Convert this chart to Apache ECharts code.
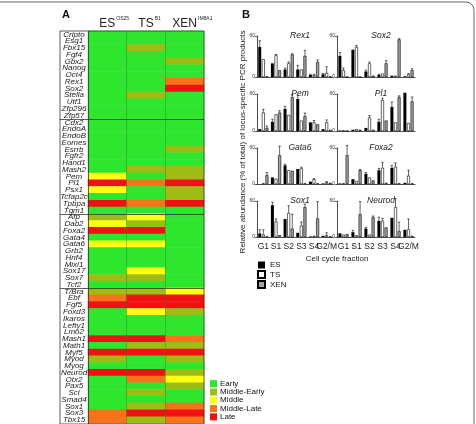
<!DOCTYPE html>
<html>
<head>
<meta charset="utf-8">
<script src="https://cdn.jsdelivr.net/npm/echarts@6/dist/echarts.min.js"></script>
<style>
html, body { margin: 0; padding: 0; background: #fff; }
#main { width: 476px; height: 424px; }
</style>
</head>
<body>
<div id="main"></div>
<script>
// ---- panel A: timing of replication per gene ----
var genes = ['Cripto', 'Esg1', 'Fbx15', 'Fgf4', 'Gbx2', 'Nanog', 'Oct4', 'Rex1', 'Sox2', 'Stella', 'Utf1', 'Zfp296', 'Zfp57',
  'Cdx2', 'EndoA', 'EndoB', 'Eomes', 'Esrrb', 'Fgfr2', 'Hand1', 'Mash2', 'Pem', 'Pl1', 'Psx1', 'Tcfap2c', 'Tpbpa', 'Tgm1',
  'Afp', 'Dab2', 'Foxa2', 'Gata4', 'Gata6', 'Grb2', 'Hnf4', 'Mixl1', 'Sox17', 'Sox7', 'Tcf2',
  'T/Bra', 'Ebf', 'Fgf5', 'Foxd3', 'Ikaros', 'Lefty1', 'Lmo2', 'Mash1', 'Math1', 'Myf5', 'Myod', 'Myog', 'Neurod',
  'Otx2', 'Pax5', 'Scl', 'Smad4', 'Sox1', 'Sox3', 'Tbx15'];
var groupSizes = [13, 14, 11, 20];
var cellLines = ['ES', 'TS', 'XEN'];
var cellSup = ['OS25', 'B1', 'IM8A1'];
// 0 Early, 1 Middle-Early, 2 Middle, 3 Middle-Late, 4 Late
var esStage = [0, 0, 0, 0, 0, 0, 0, 0, 0, 0, 0, 0, 0,
  0, 0, 0, 0, 0, 0, 0, 0, 2, 4, 2, 0, 4, 0,
  1, 2, 4, 0, 2, 0, 0, 0, 0, 1, 0,
  1, 3, 4, 0, 0, 0, 0, 4, 0, 4, 1, 0, 4, 0, 0, 0, 0, 0, 3, 3];
var tsStage = [0, 0, 1, 0, 0, 0, 0, 0, 0, 1, 0, 0, 0,
  0, 0, 0, 0, 0, 0, 0, 1, 0, 3, 0, 0, 3, 0,
  2, 1, 4, 0, 2, 0, 0, 0, 2, 1, 0,
  1, 4, 4, 2, 0, 0, 0, 4, 1, 4, 0, 0, 4, 3, 0, 1, 0, 1, 4, 1];
var xenStage = [0, 0, 0, 0, 1, 0, 0, 3, 4, 0, 0, 0, 0,
  0, 0, 0, 0, 1, 0, 0, 1, 1, 4, 1, 1, 4, 0,
  0, 0, 0, 0, 0, 0, 0, 0, 0, 0, 0,
  2, 4, 4, 1, 0, 0, 0, 3, 1, 4, 1, 0, 1, 2, 1, 0, 0, 3, 4, 3];
var stageNames = ['Early', 'Middle-Early', 'Middle', 'Middle-Late', 'Late'];
var stageColors = ['#2ee62e', '#9ebd14', '#ffff14', '#f5741a', '#f01212'];

// ---- panel B: relative abundance (% of total), rows ES / TS / XEN ----
var fractions = ['G1', 'S1', 'S2', 'S3', 'S4', 'G2/M'];
var panelGenes = ['Rex1', 'Sox2', 'Pem', 'Pl1', 'Gata6', 'Foxa2', 'Sox1', 'Neurod'];
var rex1Val = [[44, 20, 11, 11, 3, 4], [26, 32, 20, 11, 3, 6], [1, 10, 33, 31, 22, 1]];
var rex1Err = [[9, 0, 2, 6, 1, 1], [0, 1, 2, 0, 1, 9], [0, 0, 1, 8, 3, 0]];
var sox2Val = [[31, 40, 8, 3, 2, 1], [10, 44, 20, 5, 2, 4], [0, 0, 2, 20, 55, 10]];
var sox2Err = [[5, 0, 2, 1, 0, 0], [3, 2, 2, 0, 0, 1], [0, 0, 0, 4, 1, 2]];
var pemVal = [[3, 15, 36, 52, 14, 3], [30, 27, 26, 17, 14, 14], [5, 30, 55, 24, 11, 2]];
var pemErr = [[0, 4, 4, 6, 0, 0], [5, 0, 0, 0, 3, 4], [3, 3, 4, 5, 0, 0]];
var pl1Val = [[1, 2, 5, 15, 39, 62], [1, 3, 22, 50, 14, 13], [0, 2, 2, 17, 55, 48]];
var pl1Err = [[0, 0, 0, 4, 8, 0], [0, 0, 3, 3, 0, 0], [0, 0, 0, 0, 2, 7]];
var gata6Val = [[0, 11, 31, 25, 4, 1], [1, 9, 23, 26, 8, 3], [15, 48, 22, 1, 1, 2]];
var gata6Err = [[0, 0, 2, 0, 0, 0], [0, 0, 0, 2, 1, 1], [4, 15, 0, 0, 0, 0]];
var foxa2Val = [[1, 8, 17, 23, 27, 2], [1, 5, 11, 27, 29, 14], [48, 23, 6, 2, 1, 1]];
var foxa2Err = [[0, 0, 2, 3, 4, 0], [0, 0, 0, 9, 6, 9], [16, 1, 0, 0, 0, 0]];
var sox1Val = [[6, 53, 30, 7, 1, 2], [4, 26, 40, 19, 2, 3], [1, 3, 14, 50, 31, 1]];
var sox1Err = [[6, 5, 0, 0, 0, 0], [8, 4, 12, 6, 0, 4], [0, 0, 24, 5, 28, 0]];
var neurodVal = [[6, 8, 14, 27, 32, 12], [4, 3, 4, 27, 50, 13], [5, 38, 33, 16, 10, 2]];
var neurodErr = [[0, 3, 2, 6, 0, 0], [0, 0, 0, 4, 14, 17], [0, 21, 2, 0, 15, 0]];
var yTicks = [0, 60];

var panelVal = [rex1Val, sox2Val, pemVal, pl1Val, gata6Val, foxa2Val, sox1Val, neurodVal];
var panelErr = [rex1Err, sox2Err, pemErr, pl1Err, gata6Err, foxa2Err, sox1Err, neurodErr];

var chart = echarts.init(document.getElementById('main'));
var FONT = 'Liberation Sans';

var BAR_W = 3, BAR_GAP = 0.6;
var barFill = ['#000000', '#ffffff', '#a3a3a3'];

// heatmap
var heatData = [];
var stageCols = [esStage, tsStage, xenStage];
for (var c = 0; c < 3; c++) {
  for (var r = 0; r < genes.length; r++) heatData.push([c, r, stageCols[c][r]]);
}
var bounds = [];
var acc = 0;
for (var g = 0; g < groupSizes.length - 1; g++) {
  acc += groupSizes[g];
  bounds.push({ yAxis: acc });
}

// superscripts hang to the right of the name, so pad the left by the same width
var ctx = document.createElement('canvas').getContext('2d');
ctx.font = '5px ' + FONT;
var headRich = {};
cellSup.forEach(function (s, i) {
  headRich['p' + i] = { width: ctx.measureText(s).width + 1, fontSize: 5 };
});
headRich.s = { fontSize: 5, fontFamily: FONT, color: '#222', verticalAlign: 'top', padding: [0, 0, 10, 1] };

var grids = [
  { left: 88, top: 31, width: 116, height: 394.4 },
  { left: 60, top: 31, width: 144, height: 394.4, show: true, borderColor: '#333', borderWidth: 0.8, z: 10 }
];
var xAxes = [
  {
    gridIndex: 0, type: 'category', data: cellLines, position: 'top',
    axisLine: { show: false }, axisTick: { show: false },
    axisLabel: {
      interval: 0, margin: 0, color: '#222', fontFamily: FONT, fontSize: 12,
      formatter: function (v, i) { return '{p' + i + '| }' + v + '{s|' + cellSup[i] + '}'; },
      rich: headRich
    }
  },
  { gridIndex: 1, type: 'value', min: -0.72, max: 3, show: false }
];
var yAxes = [
  {
    gridIndex: 0, type: 'category', data: genes, inverse: true,
    axisLine: { show: false }, axisTick: { show: false }, splitLine: { show: false },
    axisLabel: { interval: 0, margin: 14, align: 'center', fontSize: 8, fontStyle: 'italic', color: '#222', fontFamily: FONT }
  },
  { gridIndex: 1, type: 'value', min: 0, max: genes.length, inverse: true, show: false }
];
var series = [
  {
    type: 'heatmap', xAxisIndex: 0, yAxisIndex: 0, data: heatData,
    itemStyle: { borderWidth: 0 }, emphasis: { disabled: true }
  },
  {
    type: 'line', xAxisIndex: 1, yAxisIndex: 1, data: [], z: 10, silent: true,
    markLine: {
      symbol: ['none', 'none'], silent: true, label: { show: false },
      lineStyle: { color: '#333', width: 0.8, type: 'solid' },
      data: bounds.concat([{ xAxis: 0 }])
    }
  },
  {
    type: 'line', xAxisIndex: 1, yAxisIndex: 1, data: [], z: 10, silent: true,
    markLine: {
      symbol: ['none', 'none'], silent: true, label: { show: false },
      lineStyle: { color: '#1d7a1d', width: 0.6, type: 'solid', opacity: 0.7 },
      data: [{ xAxis: 1 }, { xAxis: 2 }]
    }
  }
];

var titles = [
  { text: 'A', left: 57, top: 4, textStyle: { fontSize: 11, fontWeight: 'bold', fontFamily: FONT, color: '#111' } },
  { text: 'B', left: 237, top: 4, textStyle: { fontSize: 11, fontWeight: 'bold', fontFamily: FONT, color: '#111' } }
];

var colLeft = [257, 337], colWidth = [76, 78];
var rowTop = [36, 94, 148, 201], rowH = [41, 37, 36, 36];

function errRender(k) {
  return function (params, api) {
    var e = api.value(2);
    if (!e) return null;
    var x = api.value(0), v = api.value(1);
    var p0 = api.coord([x, v]);
    var p1 = api.coord([x, v + e]);
    var cx = p0[0] + (k - 1) * (BAR_W + BAR_GAP);
    return {
      type: 'group', children: [
        { type: 'line', shape: { x1: cx, y1: p0[1], x2: cx, y2: p1[1] }, style: { stroke: '#000', lineWidth: 0.6 } },
        { type: 'line', shape: { x1: cx - 1.2, y1: p1[1], x2: cx + 1.2, y2: p1[1] }, style: { stroke: '#000', lineWidth: 0.6 } }
      ]
    };
  };
}

for (var p = 0; p < panelGenes.length; p++) {
  var row = Math.floor(p / 2), col = p % 2;
  var gi = grids.length;
  grids.push({ left: colLeft[col], top: rowTop[row], width: colWidth[col], height: rowH[row] });
  xAxes.push({
    gridIndex: gi, type: 'category', data: fractions,
    axisLine: { lineStyle: { color: '#000', width: 0.7 } },
    axisTick: { length: 2, lineStyle: { color: '#000', width: 0.6 } },
    axisLabel: { show: row === 3, interval: 0, margin: 5, fontSize: 8.5, color: '#222', fontFamily: FONT }
  });
  yAxes.push({
    gridIndex: gi, type: 'value', min: yTicks[0], max: yTicks[1], interval: yTicks[1] - yTicks[0],
    axisLine: { show: true, lineStyle: { color: '#000', width: 0.7 } },
    axisTick: { show: true, length: 2, lineStyle: { color: '#000', width: 0.6 } },
    splitLine: { show: false },
    axisLabel: { margin: 2, fontSize: 5, color: '#333', fontFamily: FONT }
  });
  titles.push({
    text: panelGenes[p], left: colLeft[col] + colWidth[col] / 2, top: rowTop[row] - 10, textAlign: 'center',
    textStyle: { fontSize: 8.5, fontStyle: 'italic', fontWeight: 'normal', color: '#222', fontFamily: FONT }
  });
  for (var k = 0; k < 3; k++) {
    series.push({
      name: cellLines[k], type: 'bar', xAxisIndex: gi, yAxisIndex: gi,
      data: panelVal[p][k], barWidth: BAR_W, barGap: '20%', clip: false,
      itemStyle: { color: barFill[k], borderColor: '#000', borderWidth: k === 0 ? 0 : 0.6 }
    });
  }
  for (var k2 = 0; k2 < 3; k2++) {
    var ed = panelVal[p][k2].map(function (v, i) { return [i, v, panelErr[p][k2][i]]; });
    series.push({
      type: 'custom', xAxisIndex: gi, yAxisIndex: gi, data: ed, clip: false, silent: true,
      renderItem: errRender(k2), z: 3
    });
  }
}

chart.setOption({
  backgroundColor: '#fff',
  animation: false,
  title: titles,
  grid: grids,
  xAxis: xAxes,
  yAxis: yAxes,
  visualMap: {
    type: 'piecewise', seriesIndex: 0, dimension: 2, orient: 'vertical', inverse: true, align: 'left',
    left: 210, bottom: 3, padding: 0, itemWidth: 7, itemHeight: 7, itemGap: 0, itemSymbol: 'rect', textGap: 3,
    selectedMode: false, hoverLink: false,
    textStyle: { fontSize: 8, lineHeight: 8.3, color: '#111', fontFamily: FONT },
    pieces: stageNames.map(function (n, i) { return { value: i, label: n, color: stageColors[i] }; })
  },
  legend: {
    data: cellLines, orient: 'vertical', left: 257, top: 261, icon: 'rect', padding: 0,
    itemWidth: 7, itemHeight: 7, itemGap: 1, selectedMode: false,
    textStyle: { fontSize: 8, color: '#111', fontFamily: FONT }
  },
  graphic: [
    {
      type: 'rect', shape: { x: -5, y: 2, width: 479, height: 440, r: [0, 8, 0, 0] },
      style: { fill: 'none', stroke: '#666', lineWidth: 1 }, silent: true
    },
    {
      type: 'text', x: 243, y: 142, rotation: Math.PI / 2,
      style: { text: 'Relative abundance (% of total) of locus-specific PCR products', fontSize: 8, fontFamily: FONT,
        fill: '#222', textAlign: 'center', textVerticalAlign: 'middle' }
    },
    {
      type: 'text', x: 337, y: 259,
      style: { text: 'Cell cycle fraction', fontSize: 8, fontFamily: FONT, fill: '#222', textAlign: 'center', textVerticalAlign: 'middle' }
    }
  ],
  series: series
});
</script>
</body>
</html>
